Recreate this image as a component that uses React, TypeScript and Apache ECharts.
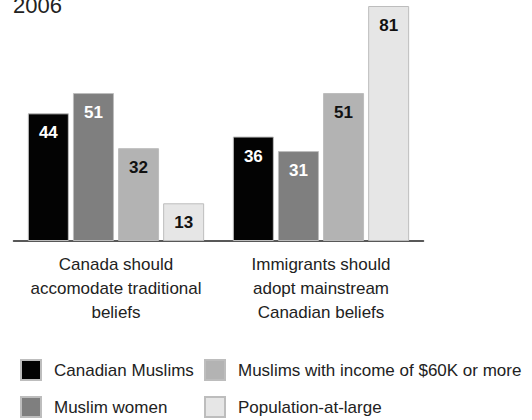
import React, { useEffect, useRef } from "react";
import * as echarts from "echarts";

const categories = [
  "Canada should\naccomodate traditional\nbeliefs",
  "Immigrants should\nadopt mainstream\nCanadian beliefs",
];
const seriesNames = [
  "Canadian Muslims",
  "Muslim women",
  "Muslims with income of $60K or more",
  "Population-at-large",
];
const canadianMuslims = [44, 36];
const muslimWomen = [51, 31];
const muslimsHighIncome = [32, 51];
const populationAtLarge = [13, 81];
const titleText = "2006";

const FONT = "'Liberation Sans', Arial, sans-serif";
const colors = ["#030303", "#7f7f7f", "#b3b3b3", "#e6e6e6"];
const labelColors = ["#ffffff", "#ffffff", "#111111", "#111111"];
const legendPos = [
  { left: 15, top: 354 },
  { left: 15, top: 391 },
  { left: 199, top: 354 },
  { left: 199, top: 391 },
];

export default function App() {
  const ref = useRef<HTMLDivElement>(null);
  useEffect(() => {
    if (!ref.current) return;
    const chart = echarts.init(ref.current, null, { renderer: "svg" });
    const values = [canadianMuslims, muslimWomen, muslimsHighIncome, populationAtLarge];
    chart.setOption({
      animation: false,
      backgroundColor: "#ffffff",
      graphic: [
        {
          type: "text",
          left: 13,
          top: -6,
          style: { text: titleText, font: "22px 'Liberation Sans', Arial, sans-serif", fill: "#222" },
        },
      ],
      grid: { left: 13.5, right: 108.5, top: 6, bottom: 179, containLabel: false },
      xAxis: {
        type: "category",
        data: categories,
        axisLine: { lineStyle: { color: "#222", width: 1.5 } },
        axisTick: { show: false },
        axisLabel: {
          margin: 11,
          color: "#222",
          fontFamily: FONT,
          fontSize: 17,
          lineHeight: 24,
          interval: 0,
        },
      },
      yAxis: {
        type: "value",
        min: 0,
        max: 81,
        show: false,
        splitLine: { show: false },
      },
      legend: seriesNames.map((name, i) => ({
        data: [name],
        orient: "horizontal",
        left: legendPos[i].left,
        top: legendPos[i].top,
        itemWidth: 20,
        itemHeight: 20,
        icon: "rect",
        selectedMode: false,
        textStyle: { fontFamily: FONT, fontSize: 17, color: "#222", padding: [0, 0, 0, 8] },
      })),
      series: seriesNames.map((name, i) => ({
        name,
        type: "bar",
        data: values[i],
        barWidth: 41,
        barGap: "10%",
        itemStyle: { color: colors[i], borderColor: "#bdbdbd", borderWidth: 1 },
        label: {
          show: true,
          position: "insideTop",
          distance: 11,
          color: labelColors[i],
          fontFamily: FONT,
          fontWeight: "bold",
          fontSize: 17,
        },
      })),
    });
    return () => chart.dispose();
  }, []);
  return <div ref={ref} style={{ width: 532, height: 420, position: "absolute", left: 0, top: 0 }} />;
}
